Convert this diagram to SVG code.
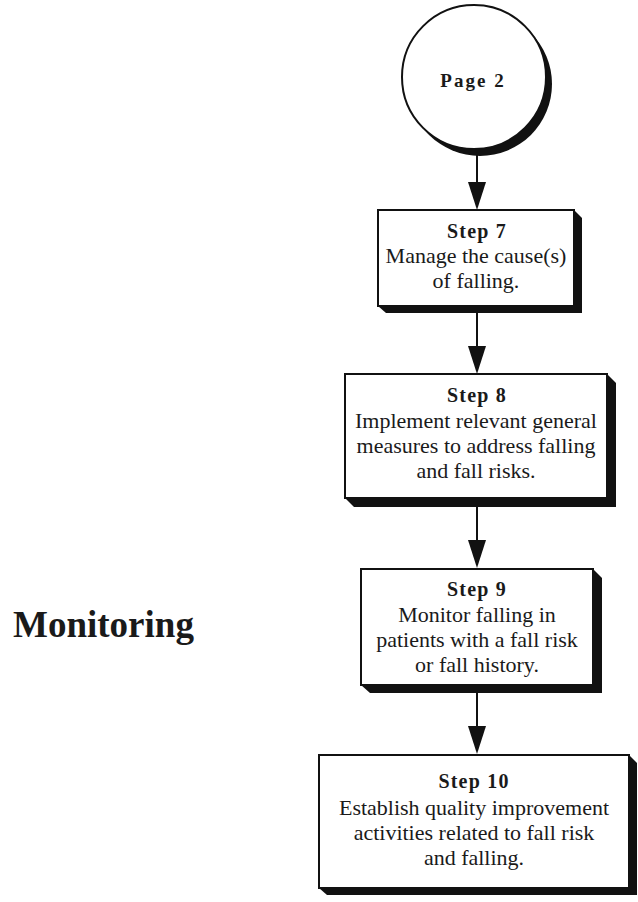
<svg xmlns="http://www.w3.org/2000/svg" width="638" height="902" viewBox="0 0 638 902">
<style>
.box{fill:#fff;stroke:#111;stroke-width:2}
.sh{fill:#111}
.t{font-family:"Liberation Serif","Times New Roman",serif;font-size:22px;fill:#1a1a1a;text-anchor:middle}
.h{font-family:"Liberation Serif","Times New Roman",serif;font-size:20px;font-weight:bold;letter-spacing:1.2px;fill:#1a1a1a;text-anchor:middle}
.ln{stroke:#111;stroke-width:2;fill:none}
.ah{fill:#111}
</style>
<rect width="638" height="902" fill="#fff"/>
<text x="13" y="637" style="font-family:'Liberation Serif','Times New Roman',serif;font-size:37px;font-weight:bold;fill:#1a1a1a">Monitoring</text>
<g id="connectors">
<line class="ln" x1="477" y1="152" x2="477" y2="190"/>
<polygon class="ah" points="468,182 486,182 477,210"/>
<line class="ln" x1="477" y1="312" x2="477" y2="354"/>
<polygon class="ah" points="468,346 486,346 477,374"/>
<line class="ln" x1="477" y1="506" x2="477" y2="548"/>
<polygon class="ah" points="468,540 486,540 477,568"/>
<line class="ln" x1="477" y1="692" x2="477" y2="734"/>
<polygon class="ah" points="468,726 486,726 477,754"/>
</g>
<g id="page2">
<circle class="sh" cx="480" cy="84" r="72"/>
<circle class="box" cx="474" cy="77" r="72"/>
<text class="h" x="473" y="87" style="font-size:19px;letter-spacing:2px">Page 2</text>
</g>
<g id="step7">
<polygon class="sh" points="574,210 582,218 582,313 386,313 378,306"/>
<rect class="box" x="378" y="210" width="196" height="96"/>
<text class="h" x="477" y="238">Step 7</text>
<text class="t" x="476" y="263">Manage the cause(s)</text>
<text class="t" x="476" y="288">of falling.</text>
</g>
<g id="step8">
<polygon class="sh" points="607,374 616,383 616,507 354,507 345,498"/>
<rect class="box" x="345" y="374" width="262" height="124"/>
<text class="h" x="477" y="402">Step 8</text>
<text class="t" x="476" y="428">Implement relevant general</text>
<text class="t" x="476" y="453">measures to address falling</text>
<text class="t" x="476" y="478">and fall risks.</text>
</g>
<g id="step9">
<polygon class="sh" points="593,569 602,578 602,693 370,693 361,685"/>
<rect class="box" x="361" y="569" width="232" height="116"/>
<text class="h" x="477" y="596">Step 9</text>
<text class="t" x="477" y="622">Monitor falling in</text>
<text class="t" x="477" y="647">patients with a fall risk</text>
<text class="t" x="477" y="672">or fall history.</text>
</g>
<g id="step10">
<polygon class="sh" points="629,755 637,763 637,895 327,895 319,888"/>
<rect class="box" x="319" y="755" width="310" height="133"/>
<text class="h" x="474" y="788">Step 10</text>
<text class="t" x="474" y="815">Establish quality improvement</text>
<text class="t" x="474" y="840">activities related to fall risk</text>
<text class="t" x="474" y="865">and falling.</text>
</g>
</svg>
